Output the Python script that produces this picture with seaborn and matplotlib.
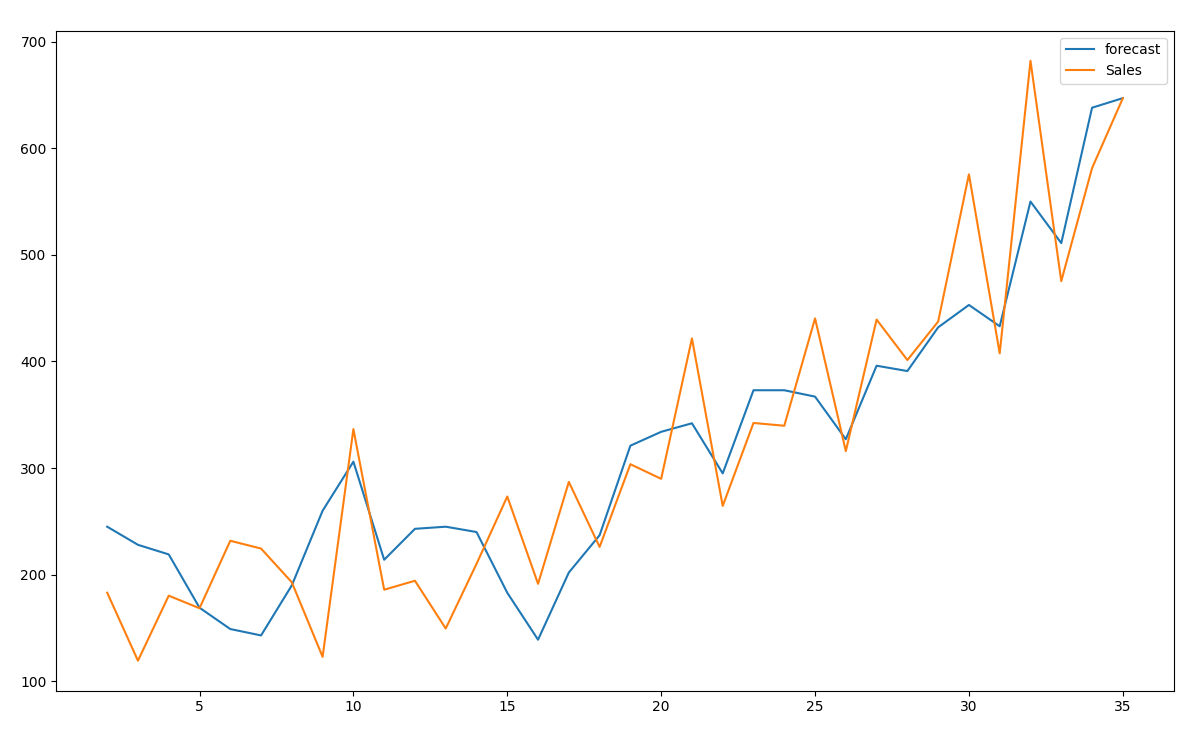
import numpy as np
import pandas as pd
import matplotlib
matplotlib.use("Agg")
import matplotlib.pyplot as plt
import seaborn as sns

# time index (months)
months = list(range(2, 36))

forecast = [245, 228, 219, 169, 149, 143, 190, 260, 306, 214, 243, 245, 240,
            183, 139, 202, 237, 321, 334, 342, 295, 373, 373, 367, 327, 396,
            391, 432, 453, 433, 550, 511, 638, 647]

sales = [183.1, 119.3, 180.3, 168.5, 231.8, 224.5, 192.8, 122.9, 336.5, 185.9,
         194.3, 149.5, 210.1, 273.3, 191.4, 287.0, 226.0, 303.6, 289.9, 421.6,
         264.5, 342.3, 339.7, 440.4, 315.9, 439.3, 401.3, 437.4, 575.5, 407.6,
         682.0, 475.3, 581.3, 646.9]

df = pd.DataFrame({"month": months, "forecast": forecast, "Sales": sales})

fig, ax = plt.subplots(figsize=(12, 7.34), dpi=100)
fig.subplots_adjust(left=0.047, right=0.978, top=0.958, bottom=0.059)

sns.lineplot(data=df, x="month", y="forecast", ax=ax, color="#1f77b4", label="forecast", linewidth=1.5)
sns.lineplot(data=df, x="month", y="Sales", ax=ax, color="#ff7f0e", label="Sales", linewidth=1.5)

ax.set_xlabel("")
ax.set_ylabel("")
ax.set_xticks([5, 10, 15, 20, 25, 30, 35])
ax.set_yticks([100, 200, 300, 400, 500, 600, 700])
ax.legend(loc="upper right")

fig.savefig("out.png")
